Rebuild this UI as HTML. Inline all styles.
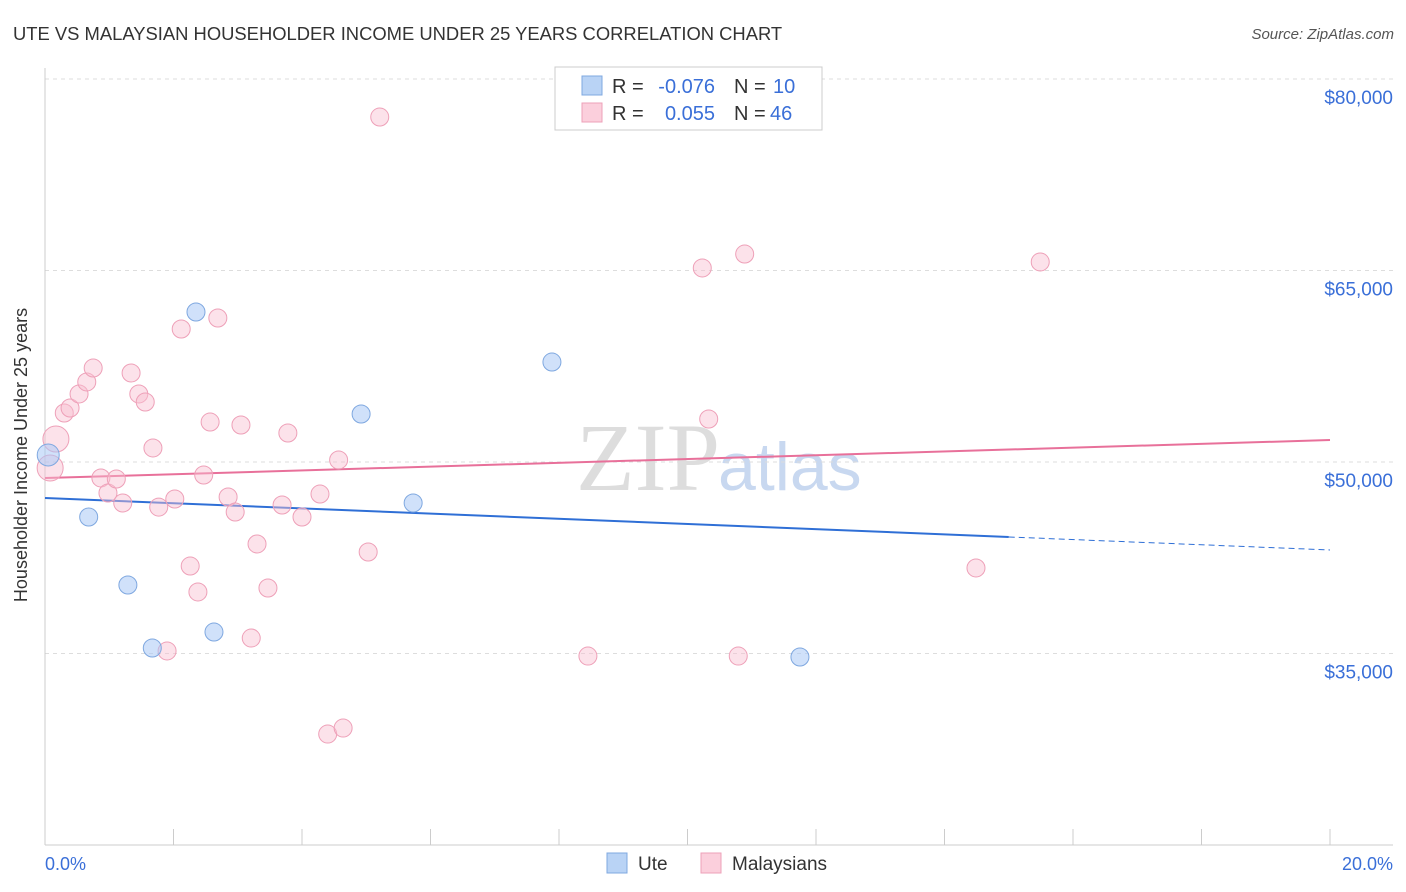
<!DOCTYPE html>
<html><head><meta charset="utf-8"><style>
body{margin:0;background:#fff;font-family:"Liberation Sans",sans-serif;}
svg{display:block}
</style></head><body>
<svg id="c" width="1406" height="892" xmlns="http://www.w3.org/2000/svg">
<text x="13" y="40" font-size="18.4" fill="#333">UTE VS MALAYSIAN HOUSEHOLDER INCOME UNDER 25 YEARS CORRELATION CHART</text>
<text x="1394" y="39" font-size="15" fill="#555" font-style="italic" text-anchor="end">Source: ZipAtlas.com</text>
<text x="720" y="490" font-size="96" fill="#ddd" text-anchor="end" font-family="Liberation Serif,serif">ZIP</text>
<text x="718" y="490" font-size="68" fill="#c8d8f0">atlas</text>
<g id="grid"></g><g id="axes"></g><g id="trend"></g><g id="pts"></g>
<text x="27" y="455" font-size="18" fill="#333" text-anchor="middle" transform="rotate(-90 27 455)">Householder Income Under 25 years</text>
<text x="45" y="870" font-size="18" fill="#3a6fd8">0.0%</text>
<text x="1393" y="870" font-size="18" fill="#3a6fd8" text-anchor="end">20.0%</text>
<g font-size="20">
<rect x="555" y="67" width="267" height="63" fill="#fff" stroke="#ccc"/>
<rect x="582" y="76" width="20" height="19" fill="#b9d3f5" stroke="#7fa8e0"/>
<rect x="582" y="103" width="20" height="19" fill="#fbcfdc" stroke="#eea0b8"/>
<text x="612" y="93" fill="#333">R =</text>
<text x="715" y="93" fill="#3a6fd8" text-anchor="end">-0.076</text>
<text x="734" y="93" fill="#333">N =</text>
<text x="773" y="93" fill="#3a6fd8">10</text>
<text x="612" y="120" fill="#333">R =</text>
<text x="715" y="120" fill="#3a6fd8" text-anchor="end">0.055</text>
<text x="734" y="120" fill="#333">N =</text>
<text x="770" y="120" fill="#3a6fd8">46</text>
</g>
<g>
<rect x="607" y="853" width="20" height="20" fill="#b9d3f5" stroke="#7fa8e0"/>
<text x="638" y="870" font-size="19" fill="#333">Ute</text>
<rect x="701" y="853" width="20" height="20" fill="#fbcfdc" stroke="#eea0b8"/>
<text x="732" y="870" font-size="19" fill="#333">Malaysians</text>
</g>
</svg>
<script>
const yTicks=[80000,65000,50000,35000];
const yTickLabels=["$80,000","$65,000","$50,000","$35,000"];
const uteX=[0.05,0.68,1.29,1.67,2.35,2.63,4.92,5.73,7.89,11.75];
const uteY=[50550,45690,40365,35430,61750,36680,53760,46790,57830,34725];
const malX=[0.08,0.17,0.30,0.39,0.53,0.65,0.75,0.87,0.98,1.11,1.21,1.34,1.46,1.56,1.68,1.77,1.90,2.02,2.12,2.26,2.38,2.47,2.57,2.69,2.85,2.96,3.05,3.21,3.30,3.47,3.69,3.78,4.00,4.28,4.40,4.57,4.64,5.03,5.21,8.45,10.23,10.33,10.79,10.89,14.49,15.49];
const malY=[49530,51800,53840,54230,55330,56270,57360,48750,47570,48670,46790,56970,55330,54700,51100,46470,35200,47100,60420,41850,39820,48980,53130,61280,47260,46080,52900,36210,43580,40130,46630,52270,45690,47490,28690,50160,29160,42950,77020,34800,65200,53370,34800,66290,41700,65670];
const uteTrend=[47180,43110];
const malTrend=[48745,51720];
const NS="http://www.w3.org/2000/svg";
const X=v=>45+v/20*1285;
const Y=v=>79+(80000-v)/15000*191.5;
function mk(t,a,p){const e=document.createElementNS(NS,t);for(const k in a)e.setAttribute(k,a[k]);document.getElementById(p).appendChild(e);return e;}
yTicks.forEach((t,i)=>{
 const l=mk('line',{x1:45,x2:1393,y1:Y(t),y2:Y(t),stroke:'#ddd','stroke-dasharray':'4 4'},'grid');
 
 
 const tx=mk('text',{x:1393,y:Y(t)+25,'font-size':19,fill:'#3a6fd8','text-anchor':'end'},'grid');
 tx.textContent=yTickLabels[i];
 
 
});
let a=mk('line',{x1:45,x2:45,y1:68,y2:845,stroke:'#ccc'},'axes');


a=mk('line',{x1:45,x2:1393,y1:845,y2:845,stroke:'#ccc'},'axes');


for(let i=1;i<=10;i++){const t=mk('line',{x1:X(i*2),x2:X(i*2),y1:829,y2:845,stroke:'#ccc'},'axes');
 
 }
const ymid=uteTrend[0]+(uteTrend[1]-uteTrend[0])*(15/20);
let tl=mk('line',{x1:X(0),y1:Y(uteTrend[0]),x2:X(15),y2:Y(ymid),stroke:'#2f6fd6','stroke-width':2},'trend');


tl=mk('line',{x1:X(15),y1:Y(ymid),x2:X(20),y2:Y(uteTrend[1]),stroke:'#2f6fd6','stroke-width':1,'stroke-dasharray':'6 4'},'trend');


tl=mk('line',{x1:X(0),y1:Y(malTrend[0]),x2:X(20),y2:Y(malTrend[1]),stroke:'#e8709a','stroke-width':2},'trend');


malX.forEach((x,i)=>{const r=i<2?13:9;const c=mk('circle',{cx:X(x),cy:Y(malY[i]),r:r,fill:'rgba(248,190,208,0.45)',stroke:'#eea0b8','stroke-width':1},'pts');
 
 });
uteX.forEach((x,i)=>{const c=mk('circle',{cx:X(x),cy:Y(uteY[i]),r:i==0?11:9,fill:'rgba(170,200,245,0.55)',stroke:'#7fa8e0','stroke-width':1},'pts');
 
 });
</script>
</body></html>
